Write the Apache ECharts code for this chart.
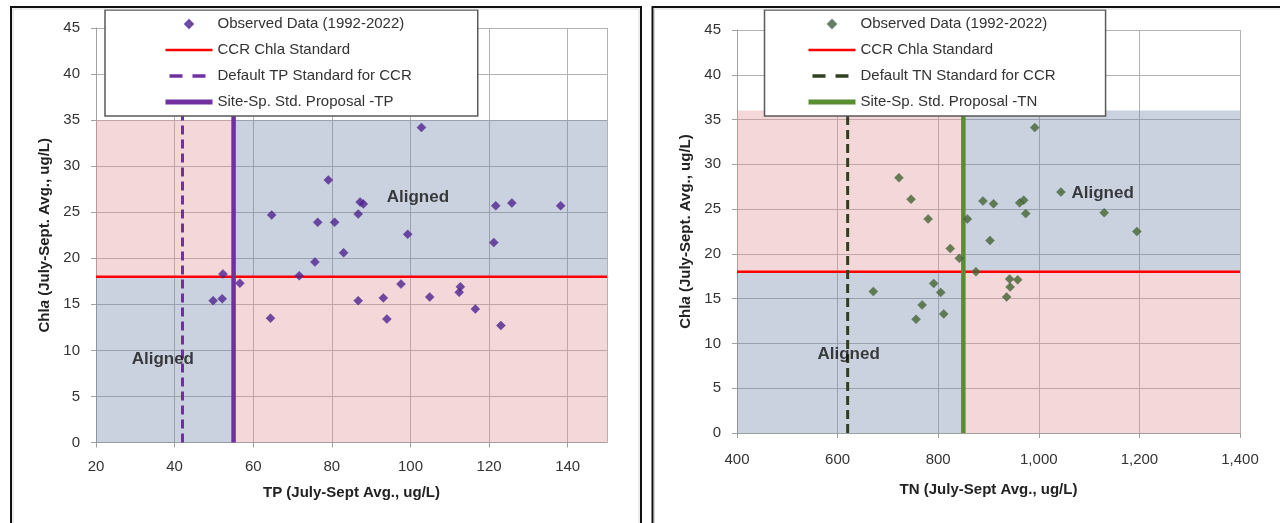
<!DOCTYPE html>
<html><head><meta charset="utf-8">
<script src="https://cdn.jsdelivr.net/npm/echarts@6/dist/echarts.min.js"></script>
<style>
html,body{margin:0;padding:0;background:#fff;width:1280px;height:523px;overflow:hidden}
#c1{position:absolute;left:0;top:0;width:646px;height:523px}
#c2{position:absolute;left:646px;top:0;width:634px;height:523px}
</style>
</head><body><div id="c1"></div><div id="c2"></div>
<script>
// ---- Data ----
const tpValues   = [52.3, 56.6, 49.8, 52.1, 64.4, 64.7, 71.7, 75.7, 76.4, 80.7, 79.1, 83.0, 86.7, 87.2, 88.0,
                    102.8, 99.3, 121.7, 125.8, 138.2, 121.2, 97.6, 86.7, 93.1, 94.0, 104.9, 112.7, 112.4, 116.5, 123.0];
const chlaForTP  = [18.3, 17.3, 15.4, 15.6, 13.5, 24.7, 18.1, 19.6, 23.9, 23.9, 28.5, 20.6, 24.8, 26.1, 25.9,
                    34.2, 22.6, 25.7, 26.0, 25.7, 21.7, 17.2, 15.4, 15.7, 13.4, 15.8, 16.9, 16.3, 14.5, 12.7];
const tnValues   = [722, 746, 780, 858, 824, 842, 875, 671, 791, 805, 768, 756, 811, 889, 910,
                    962, 970, 974, 992, 903, 1044, 1130, 1195, 942, 958, 943, 936];
const chlaForTN  = [28.5, 26.1, 23.9, 23.9, 20.6, 19.5, 18.0, 15.8, 16.7, 15.7, 14.3, 12.7, 13.3, 25.9, 25.6,
                    25.7, 26.0, 24.5, 34.1, 21.5, 26.9, 24.6, 22.5, 17.2, 17.1, 16.3, 15.2];
const chlaStandard = 18;
const tpDefaultStd = 42, tpSiteStd = 55, tpShadeTop = 35;
const tnDefaultStd = 620, tnSiteStd = 850, tnShadeTop = 36;
const tpAxisRange = [20, 150], tpInterval = 20;
const tnAxisRange = [400, 1400], tnInterval = 200;
const chlaAxisRange = [0, 45], chlaInterval = 5;
const tpAlignedLabels = [[37, 9.0], [101.9, 26.6]];
const tnAlignedLabels = [[622, 8.8], [1127, 26.8]];
const alignedText = 'Aligned';

const FONT = '"Liberation Sans", Arial, sans-serif';
const PINK = 'rgba(224,144,146,0.35)';
const BLUE = 'rgba(112,129,166,0.36)';
const DIAMOND = 'path://M5,0L10,5L5,10L0,5Z';

function zip(a, b) { return a.map((v, i) => [v, b[i]]); }

function build(cfg) {
  const [xmin, xmax] = cfg.xRange;
  const [ymin, ymax] = chlaAxisRange;
  const names = cfg.names;
  return {
    animation: false,
    grid: cfg.grid,
    graphic: [
      { type: 'rect', silent: true, z: 100, shape: cfg.frame, style: { fill: null, stroke: '#111', lineWidth: 2 } },
      { type: 'rect', silent: true, z: 100, shape: { x: cfg.frame.x + 2, y: cfg.frame.y + 2, width: cfg.frame.width - 4, height: cfg.frame.height - 4 }, style: { fill: null, stroke: '#d8d8d8', lineWidth: 1 } }
    ],
    legend: {
      orient: 'vertical', left: cfg.legendLeft, top: 10,
      padding: cfg.legendPadding, itemWidth: 47, itemHeight: 8, itemGap: 11,
      backgroundColor: '#fff', borderColor: '#5a5a5a', borderWidth: 1.5,
      selectedMode: false,
      textStyle: { fontFamily: FONT, fontSize: 15, color: '#333', lineHeight: 14 },
      data: [
        { name: names[0], icon: DIAMOND },
        { name: names[1], itemStyle: { opacity: 0 }, lineStyle: { width: 2.5 } },
        { name: names[2], itemStyle: { opacity: 0 }, lineStyle: { width: 3.5, type: [13, 10], dashOffset: -4 } },
        { name: names[3], itemStyle: { opacity: 0 }, lineStyle: { width: 5 } }
      ]
    },
    xAxis: {
      type: 'value', min: xmin, max: xmax, interval: cfg.xInterval,
      name: cfg.xName, nameLocation: 'middle', nameGap: cfg.xNameGap,
      nameTextStyle: { fontFamily: FONT, fontSize: 15, fontWeight: 'bold', color: '#222' },
      axisLine: { show: true, lineStyle: { color: '#a0a0a0', width: 1 } },
      axisTick: { show: true, length: 5, lineStyle: { color: '#a0a0a0' } },
      axisLabel: { margin: cfg.xLabelMargin, fontFamily: FONT, fontSize: 15, color: '#333', showMaxLabel: cfg.showMaxX, formatter: v => v.toLocaleString('en-US') },
      splitLine: { show: true, lineStyle: { color: '#b2b2b2', width: 1 } }
    },
    yAxis: {
      type: 'value', min: ymin, max: ymax, interval: chlaInterval,
      name: '{b|Chl}{bi|a}{b| (July-Sept. Avg., ug/L)}', nameLocation: 'middle', nameGap: 42, nameRotate: 90,
      nameTextStyle: { rich: {
        b: { fontFamily: FONT, fontSize: 15, fontWeight: 'bold', color: '#222' },
        bi: { fontFamily: FONT, fontSize: 15, fontWeight: 'bold', fontStyle: 'italic', color: '#222' } } },
      axisLine: { show: true, lineStyle: { color: '#a0a0a0', width: 1 } },
      axisTick: { show: true, length: 5, lineStyle: { color: '#a0a0a0' } },
      axisLabel: { margin: 16, fontFamily: FONT, fontSize: 15, color: '#333' },
      splitLine: { show: true, lineStyle: { color: '#b2b2b2', width: 1 } }
    },
    series: [
      { name: 'shade', type: 'line', data: [], z: 1, silent: true,
        markArea: { silent: true, itemStyle: { borderWidth: 0 }, data: [
          [{ coord: [xmin, ymin], itemStyle: { color: BLUE } }, { coord: [cfg.site, chlaStandard] }],
          [{ coord: [xmin, chlaStandard], itemStyle: { color: PINK } }, { coord: [cfg.site, cfg.shadeTop] }],
          [{ coord: [cfg.site, chlaStandard], itemStyle: { color: BLUE } }, { coord: [xmax, cfg.shadeTop] }],
          [{ coord: [cfg.site, ymin], itemStyle: { color: PINK } }, { coord: [xmax, chlaStandard] }]
        ] } },
      { name: names[1], type: 'line', z: 3, symbol: 'none', silent: true,
        data: [[xmin, chlaStandard], [xmax, chlaStandard]],
        itemStyle: { color: '#ff0000' },
        lineStyle: { color: '#ff0000', width: 2.5 } },
      { name: names[2], type: 'line', z: 3, symbol: 'none', silent: true,
        data: [[cfg.def, ymin], [cfg.def, ymax]],
        itemStyle: { color: cfg.dashColor },
        lineStyle: { color: cfg.dashColor, width: 3, type: [9, 5] } },
      { name: names[3], type: 'line', z: 3, symbol: 'none', silent: true,
        data: [[cfg.site, ymin], [cfg.site, ymax]],
        itemStyle: { color: cfg.solidColor },
        lineStyle: { color: cfg.solidColor, width: 4.5 } },
      { name: names[0], type: 'scatter', z: 5, symbol: 'diamond', symbolSize: 9,
        data: zip(cfg.xs, cfg.ys),
        itemStyle: { color: cfg.markerColor, borderColor: cfg.markerBorder, borderWidth: 0.6 } },
      { name: 'annot', type: 'scatter', z: 6, symbolSize: 1, silent: true,
        data: cfg.labels, itemStyle: { color: 'rgba(0,0,0,0)' },
        label: { show: true, position: 'inside', formatter: alignedText, fontFamily: FONT, fontSize: 17, fontWeight: 'bold', color: '#111' } }
    ]
  };
}

const c1 = echarts.init(document.getElementById('c1'));
c1.setOption(build({
  xRange: tpAxisRange, xInterval: tpInterval, showMaxX: false,
  grid: { left: 96, right: 39, top: 28, bottom: 80.5 },
  frame: { x: 11, y: 7, width: 630, height: 600 },
  legendLeft: 105, legendPadding: [6.5, 66, 6.5, 58],
  xName: 'TP (July-Sept Avg., ug/L)', xNameGap: 43, xLabelMargin: 17,
  names: ['Observed Data (1992-2022)', 'CCR Chla Standard', 'Default TP Standard for CCR', 'Site-Sp. Std. Proposal -TP'],
  def: tpDefaultStd, site: tpSiteStd, shadeTop: tpShadeTop,
  dashColor: '#7030a0', solidColor: '#7030a0', markerColor: '#4f2390', markerBorder: '#5f3c9c',
  xs: tpValues, ys: chlaForTP, labels: tpAlignedLabels
}));

const c2 = echarts.init(document.getElementById('c2'));
c2.setOption(build({
  xRange: tnAxisRange, xInterval: tnInterval, showMaxX: true,
  grid: { left: 91, right: 40, top: 30, bottom: 90 },
  frame: { x: 6.5, y: 7, width: 700, height: 600 },
  legendLeft: 118.5, legendPadding: [6.5, 50, 6.5, 41.5],
  xName: 'TN (July-Sept Avg., ug/L)', xNameGap: 49, xLabelMargin: 19,
  names: ['Observed Data (1992-2022)', 'CCR Chla Standard', 'Default TN Standard for CCR', 'Site-Sp. Std. Proposal -TN'],
  def: tnDefaultStd, site: tnSiteStd, shadeTop: tnShadeTop,
  dashColor: '#2f3f1f', solidColor: '#5a8c30', markerColor: '#45642e', markerBorder: '#557068',
  xs: tnValues, ys: chlaForTN, labels: tnAlignedLabels
}));
</script>
</body></html>
